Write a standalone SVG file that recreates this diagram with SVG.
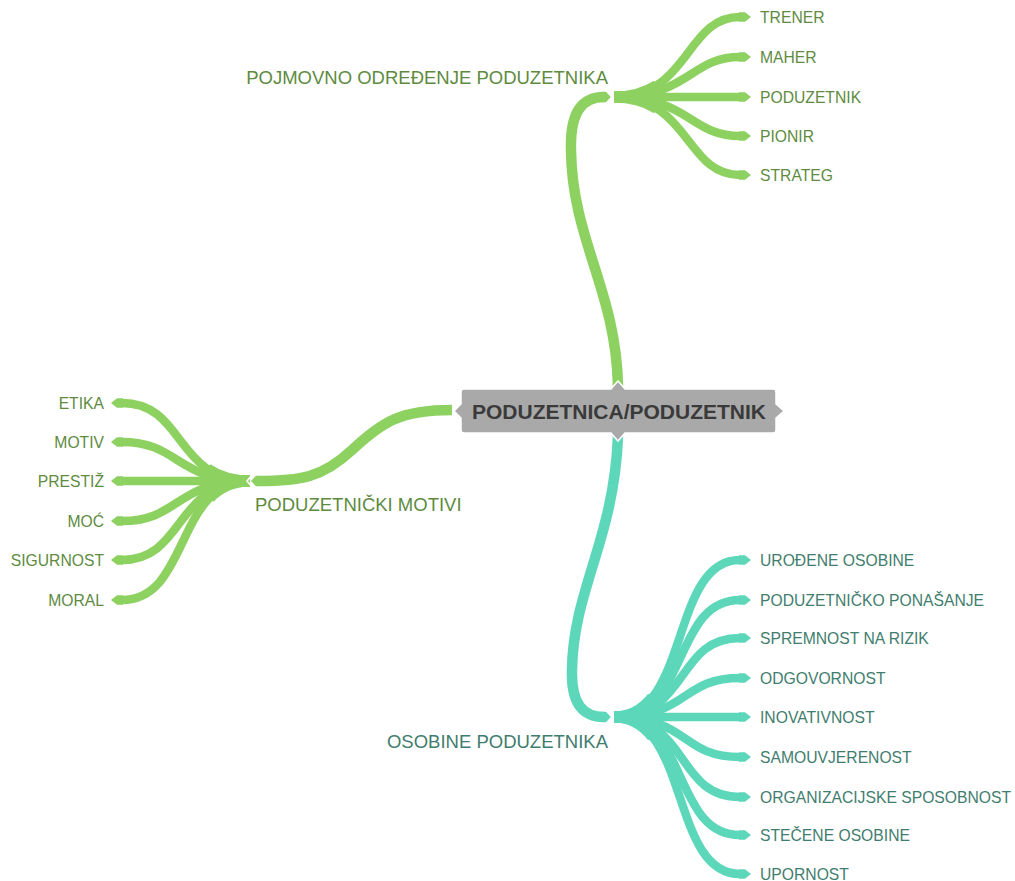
<svg xmlns="http://www.w3.org/2000/svg" width="1015" height="881" viewBox="0 0 1015 881">
<defs>
<style>
.g{fill:none;stroke:#8dd160;stroke-width:8.5}
.gm{fill:none;stroke:#8dd160;stroke-width:10.5}
.t{fill:none;stroke:#5dd7ba;stroke-width:8.5}
.tm{fill:none;stroke:#5dd7ba;stroke-width:10.5}
.gw{fill:none;stroke:#8dd160;stroke-width:11;stroke-dasharray:45 2000}
.tw{fill:none;stroke:#5dd7ba;stroke-width:11;stroke-dasharray:45 2000}
text{font-family:"Liberation Sans",Arial,sans-serif}
.lg{fill:#5e8b3f;font-size:15.7px}
.lt{fill:#3f7d6e;font-size:15.7px}
.mg{fill:#5e8b3f;font-size:18.5px}
.mt{fill:#3f7d6e;font-size:18.5px}
</style>
<marker id="ag" markerUnits="userSpaceOnUse" markerWidth="14" markerHeight="12" refX="0" refY="0" viewBox="0 -6 14 12" orient="auto" overflow="visible"><path d="M-1,-4.8 L5,-4.8 L11,0 L5,4.8 L-1,4.8 Z" fill="#8dd160"/></marker>
<marker id="at" markerUnits="userSpaceOnUse" markerWidth="14" markerHeight="12" refX="0" refY="0" viewBox="0 -6 14 12" orient="auto" overflow="visible"><path d="M-1,-4.8 L5,-4.8 L11,0 L5,4.8 L-1,4.8 Z" fill="#5dd7ba"/></marker>
<marker id="jg" markerUnits="userSpaceOnUse" markerWidth="14" markerHeight="14" refX="0" refY="0" viewBox="0 -7 14 14" orient="auto" overflow="visible"><path d="M-1,-5.2 L2,-5.2 L7,0 L2,5.2 L-1,5.2 Z" fill="#8dd160"/></marker>
<marker id="jt" markerUnits="userSpaceOnUse" markerWidth="14" markerHeight="14" refX="0" refY="0" viewBox="0 -7 14 14" orient="auto" overflow="visible"><path d="M-1,-5.2 L2,-5.2 L7,0 L2,5.2 L-1,5.2 Z" fill="#5dd7ba"/></marker>
</defs>
<rect width="1015" height="881" fill="#ffffff"/>
<g id="connectors">
<!-- main branches -->
<path class="gm" d="M618,386 C 616,290 572,240 571,150 C 570,112 582,97 604,97" marker-end="url(#jg)"/>
<path class="gm" d="M452,410 C 400,410 382,422 352,450 C 322,478 300,481 258,481" marker-end="url(#jg)"/>
<path class="tm" d="M618,436 C 614,540 573,590 572,670 C 571,705 584,717 604,717" marker-end="url(#jt)"/>
<!-- top children -->
<g id="top-children">
<path class="g" d="M614,97 C 690,97 685,17 740,17" marker-end="url(#ag)"/>
<path class="g" d="M614,97 C 690,97 690,57 740,57" marker-end="url(#ag)"/>
<path class="g" d="M614,97 L740,97" marker-end="url(#ag)"/>
<path class="g" d="M614,97 C 690,97 690,136 740,136" marker-end="url(#ag)"/>
<path class="g" d="M614,97 C 690,97 685,175 740,175" marker-end="url(#ag)"/>
<path class="gw" d="M614,97 C 690,97 685,17 740,17"/>
<path class="gw" d="M614,97 C 690,97 690,57 740,57"/>
<path class="gw" d="M614,97 L740,97"/>
<path class="gw" d="M614,97 C 690,97 690,136 740,136"/>
<path class="gw" d="M614,97 C 690,97 685,175 740,175"/>
</g>
<!-- left children -->
<g id="left-children">
<path class="g" d="M250,481 C 175,481 185,403 122,403" marker-end="url(#ag)"/>
<path class="g" d="M250,481 C 175,481 180,442 122,442" marker-end="url(#ag)"/>
<path class="g" d="M250,481 L122,481" marker-end="url(#ag)"/>
<path class="g" d="M250,481 C 175,481 180,521 122,521" marker-end="url(#ag)"/>
<path class="g" d="M250,481 C 175,481 185,560 122,560" marker-end="url(#ag)"/>
<path class="g" d="M250,481 C 175,481 190,600 122,600" marker-end="url(#ag)"/>
<path class="gw" d="M250,481 C 175,481 185,403 122,403"/>
<path class="gw" d="M250,481 C 175,481 180,442 122,442"/>
<path class="gw" d="M250,481 L122,481"/>
<path class="gw" d="M250,481 C 175,481 180,521 122,521"/>
<path class="gw" d="M250,481 C 175,481 185,560 122,560"/>
<path class="gw" d="M250,481 C 175,481 190,600 122,600"/>
</g>
<!-- bottom children -->
<g id="bottom-children">
<path class="t" d="M614,717 C 690,717 670,560 740,560" marker-end="url(#at)"/>
<path class="t" d="M614,717 C 690,717 672,600 740,600" marker-end="url(#at)"/>
<path class="t" d="M614,717 C 690,717 675,638 740,638" marker-end="url(#at)"/>
<path class="t" d="M614,717 C 690,717 680,678 740,678" marker-end="url(#at)"/>
<path class="t" d="M614,717 L740,717" marker-end="url(#at)"/>
<path class="t" d="M614,717 C 690,717 680,757 740,757" marker-end="url(#at)"/>
<path class="t" d="M614,717 C 690,717 675,797 740,797" marker-end="url(#at)"/>
<path class="t" d="M614,717 C 690,717 672,835 740,835" marker-end="url(#at)"/>
<path class="t" d="M614,717 C 690,717 670,874 740,874" marker-end="url(#at)"/>
<path class="tw" d="M614,717 C 690,717 670,560 740,560"/>
<path class="tw" d="M614,717 C 690,717 672,600 740,600"/>
<path class="tw" d="M614,717 C 690,717 675,638 740,638"/>
<path class="tw" d="M614,717 C 690,717 680,678 740,678"/>
<path class="tw" d="M614,717 L740,717"/>
<path class="tw" d="M614,717 C 690,717 680,757 740,757"/>
<path class="tw" d="M614,717 C 690,717 675,797 740,797"/>
<path class="tw" d="M614,717 C 690,717 672,835 740,835"/>
<path class="tw" d="M614,717 C 690,717 670,874 740,874"/>
</g>
<!-- junction gaps -->
<polyline points="606,90 612,97 606,104" fill="none" stroke="#ffffff" stroke-width="1.6"/>
<polyline points="253,474 247,481 253,488" fill="none" stroke="#ffffff" stroke-width="1.6"/>
<polyline points="606,710 612,717 606,724" fill="none" stroke="#ffffff" stroke-width="1.6"/>
</g>
<g id="center">
<path d="M464,389 L611,389 L618,381 L625,389 L773,389 Q776,389 776,392 L776,404 L784,411 L776,418 L776,430 Q776,433 773,433 L625,433 L618,441 L611,433 L464,433 Q461,433 461,430 L461,418 L454,411 L461,404 L461,392 Q461,389 464,389 Z" fill="#a9a9a9" stroke="#ffffff" stroke-width="1.5"/>
<text x="619" y="418.5" text-anchor="middle" font-size="21" font-weight="bold" fill="#3a3a3a">PODUZETNICA/PODUZETNIK</text>
</g>
<g id="pojmovno"><text class="mg" x="608" y="83.5" text-anchor="end">POJMOVNO ODREĐENJE PODUZETNIKA</text></g>
<g id="trener"><text class="lg" x="760" y="22.5">TRENER</text></g>
<g id="maher"><text class="lg" x="760" y="62.5">MAHER</text></g>
<g id="poduzetnik"><text class="lg" x="760" y="102.5">PODUZETNIK</text></g>
<g id="pionir"><text class="lg" x="760" y="141.5">PIONIR</text></g>
<g id="strateg"><text class="lg" x="760" y="180.5">STRATEG</text></g>
<g id="motivi"><text class="mg" x="255" y="511">PODUZETNIČKI MOTIVI</text></g>
<g id="etika"><text class="lg" x="104" y="408.5" text-anchor="end">ETIKA</text></g>
<g id="motiv"><text class="lg" x="104" y="447.5" text-anchor="end">MOTIV</text></g>
<g id="prestiz"><text class="lg" x="104" y="486.5" text-anchor="end">PRESTIŽ</text></g>
<g id="moc"><text class="lg" x="104" y="526.5" text-anchor="end">MOĆ</text></g>
<g id="sigurnost"><text class="lg" x="104" y="565.5" text-anchor="end">SIGURNOST</text></g>
<g id="moral"><text class="lg" x="104" y="605.5" text-anchor="end">MORAL</text></g>
<g id="osobine"><text class="mt" x="608" y="748" text-anchor="end">OSOBINE PODUZETNIKA</text></g>
<g id="urodjene"><text class="lt" x="760" y="565.5">UROĐENE OSOBINE</text></g>
<g id="ponasanje"><text class="lt" x="760" y="605.5">PODUZETNIČKO PONAŠANJE</text></g>
<g id="rizik"><text class="lt" x="760" y="643.5">SPREMNOST NA RIZIK</text></g>
<g id="odgovornost"><text class="lt" x="760" y="683.5">ODGOVORNOST</text></g>
<g id="inovativnost"><text class="lt" x="760" y="722.5">INOVATIVNOST</text></g>
<g id="samouvjerenost"><text class="lt" x="760" y="762.5">SAMOUVJERENOST</text></g>
<g id="organizacijske"><text class="lt" x="760" y="802.5">ORGANIZACIJSKE SPOSOBNOST</text></g>
<g id="stecene"><text class="lt" x="760" y="840.5">STEČENE OSOBINE</text></g>
<g id="upornost"><text class="lt" x="760" y="879.5">UPORNOST</text></g>
</svg>
